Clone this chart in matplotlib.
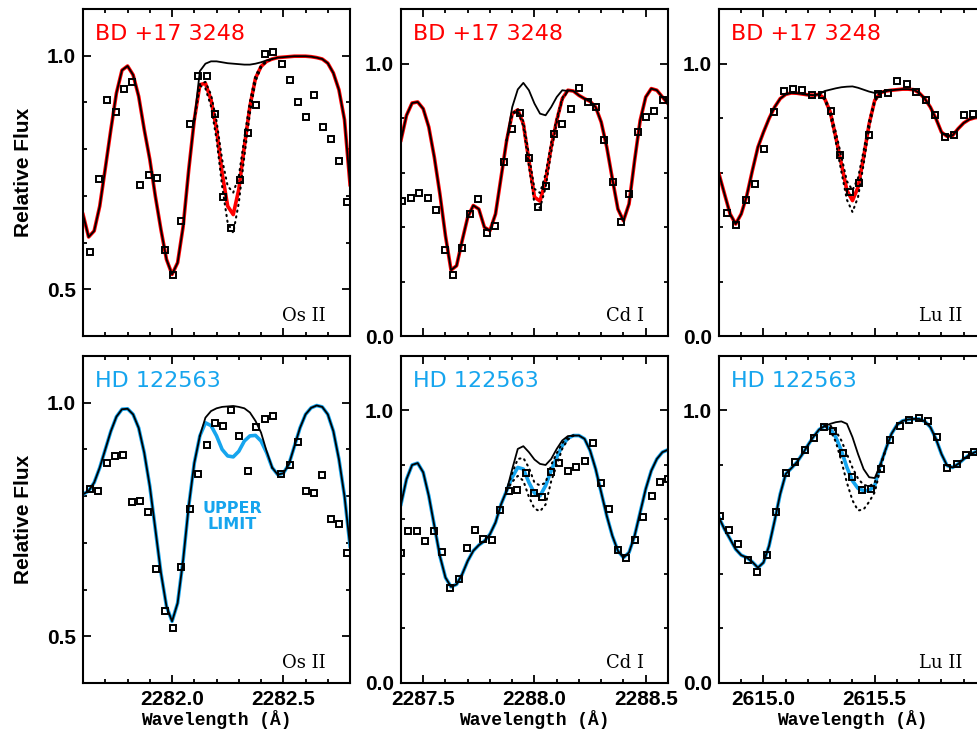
import matplotlib.pyplot as plt
from matplotlib.ticker import MultipleLocator, FormatStrFormatter, FixedLocator

RED = "#ff0000"
BLUE = "#16a5ee"

# wavelength grids of the synthetic spectra (same for both stars)
os_wave = [2281.600, 2281.625, 2281.650, 2281.675, 2281.700, 2281.725, 2281.750,
           2281.775, 2281.800, 2281.825, 2281.850, 2281.875, 2281.900, 2281.925,
           2281.950, 2281.975, 2282.000, 2282.025, 2282.050, 2282.075, 2282.100,
           2282.125, 2282.150, 2282.175, 2282.200, 2282.225, 2282.250, 2282.275,
           2282.300, 2282.325, 2282.350, 2282.375, 2282.400, 2282.425, 2282.450,
           2282.475, 2282.500, 2282.525, 2282.550, 2282.575, 2282.600, 2282.625,
           2282.650, 2282.675, 2282.700, 2282.725, 2282.750, 2282.775, 2282.800]
cd_wave = [2287.400, 2287.425, 2287.450, 2287.475, 2287.500, 2287.525, 2287.550,
           2287.575, 2287.600, 2287.625, 2287.650, 2287.675, 2287.700, 2287.725,
           2287.750, 2287.775, 2287.800, 2287.825, 2287.850, 2287.875, 2287.900,
           2287.925, 2287.950, 2287.975, 2288.000, 2288.025, 2288.050, 2288.075,
           2288.100, 2288.125, 2288.150, 2288.175, 2288.200, 2288.225, 2288.250,
           2288.275, 2288.300, 2288.325, 2288.350, 2288.375, 2288.400, 2288.425,
           2288.450, 2288.475, 2288.500, 2288.525, 2288.550, 2288.575, 2288.600]
lu_wave = [2614.800, 2614.825, 2614.850, 2614.875, 2614.900, 2614.925, 2614.950,
           2614.975, 2615.000, 2615.025, 2615.050, 2615.075, 2615.100, 2615.125,
           2615.150, 2615.175, 2615.200, 2615.225, 2615.250, 2615.275, 2615.300,
           2615.325, 2615.350, 2615.375, 2615.400, 2615.425, 2615.450, 2615.475,
           2615.500, 2615.525, 2615.550, 2615.575, 2615.600, 2615.625, 2615.650,
           2615.675, 2615.700, 2615.725, 2615.750, 2615.775, 2615.800, 2615.825,
           2615.850, 2615.875, 2615.900, 2615.925, 2615.950, 2615.975]

# ---- BD +17 3248 ----
bd_os_fit = [0.660, 0.612, 0.625, 0.678, 0.759, 0.842, 0.920, 0.969, 0.978, 0.959,
             0.913, 0.842, 0.778, 0.699, 0.628, 0.564, 0.532, 0.557, 0.635, 0.756,
             0.863, 0.938, 0.941, 0.906, 0.842, 0.749, 0.678, 0.660, 0.714, 0.806,
             0.892, 0.952, 0.977, 0.988, 0.993, 0.996, 0.997, 0.998, 0.999, 0.999,
             0.999, 0.998, 0.996, 0.993, 0.984, 0.963, 0.927, 0.863, 0.724]
bd_os_i0 = 20
bd_os_none = [0.863, 0.967, 0.983, 0.988, 0.988, 0.986, 0.984, 0.983, 0.982, 0.981,
              0.981, 0.983, 0.986, 0.990, 0.993]
bd_os_lo = [0.863, 0.936, 0.930, 0.892, 0.821, 0.721, 0.642, 0.621, 0.685, 0.785,
            0.877, 0.945, 0.975, 0.988, 0.993]
bd_os_hi = [0.863, 0.939, 0.944, 0.917, 0.860, 0.778, 0.721, 0.707, 0.742, 0.824,
            0.902, 0.957, 0.979, 0.989, 0.993]
bd_os_obs_w = [2281.633, 2281.670, 2281.709, 2281.746, 2281.782, 2281.819, 2281.858,
               2281.896, 2281.933, 2281.969, 2282.006, 2282.042, 2282.081, 2282.116,
               2282.155, 2282.193, 2282.230, 2282.266, 2282.304, 2282.340, 2282.379,
               2282.418, 2282.454, 2282.493, 2282.530, 2282.567, 2282.603, 2282.640,
               2282.678, 2282.715, 2282.752, 2282.788]
bd_os_obs_f = [0.580, 0.737, 0.905, 0.880, 0.929, 0.944, 0.724, 0.744, 0.739, 0.585,
               0.531, 0.647, 0.854, 0.956, 0.957, 0.875, 0.698, 0.632, 0.735, 0.835,
               0.895, 1.004, 1.009, 0.982, 0.948, 0.901, 0.868, 0.916, 0.848, 0.821,
               0.775, 0.686]

bd_cd_fit = [0.719, 0.810, 0.855, 0.859, 0.834, 0.767, 0.656, 0.521, 0.368, 0.242,
             0.258, 0.350, 0.436, 0.479, 0.466, 0.399, 0.387, 0.448, 0.583, 0.718,
             0.816, 0.830, 0.779, 0.644, 0.510, 0.495, 0.571, 0.693, 0.791, 0.871,
             0.902, 0.899, 0.883, 0.871, 0.861, 0.840, 0.785, 0.693, 0.577, 0.466,
             0.423, 0.485, 0.644, 0.791, 0.877, 0.908, 0.902, 0.877, 0.853]
bd_cd_i0 = 19
bd_cd_none = [0.718, 0.840, 0.905, 0.929, 0.902, 0.853, 0.816, 0.810, 0.840, 0.877,
              0.902, 0.899]
bd_cd_lo = [0.718, 0.814, 0.826, 0.770, 0.625, 0.485, 0.470, 0.545, 0.675, 0.785,
            0.868, 0.899]
bd_cd_hi = [0.718, 0.817, 0.833, 0.788, 0.665, 0.540, 0.525, 0.595, 0.708, 0.798,
            0.874, 0.899]
bd_cd_obs_w = [2287.406, 2287.444, 2287.482, 2287.521, 2287.557, 2287.597, 2287.634,
               2287.674, 2287.711, 2287.748, 2287.786, 2287.823, 2287.861, 2287.899,
               2287.937, 2287.974, 2288.014, 2288.051, 2288.088, 2288.125, 2288.163,
               2288.201, 2288.239, 2288.276, 2288.314, 2288.352, 2288.391, 2288.427,
               2288.464, 2288.502, 2288.539, 2288.577]
bd_cd_obs_f = [0.497, 0.507, 0.525, 0.508, 0.463, 0.315, 0.225, 0.323, 0.447, 0.502,
               0.378, 0.405, 0.639, 0.761, 0.817, 0.653, 0.472, 0.551, 0.742, 0.779,
               0.834, 0.912, 0.859, 0.840, 0.720, 0.567, 0.417, 0.520, 0.750, 0.805,
               0.825, 0.867]

bd_lu_fit = [0.595, 0.521, 0.448, 0.411, 0.448, 0.515, 0.607, 0.693, 0.748, 0.798,
             0.840, 0.871, 0.887, 0.892, 0.891, 0.888, 0.885, 0.884, 0.887, 0.871,
             0.822, 0.730, 0.632, 0.534, 0.497, 0.546, 0.656, 0.779, 0.865, 0.893,
             0.899, 0.902, 0.904, 0.906, 0.906, 0.904, 0.892, 0.871, 0.840, 0.798,
             0.748, 0.733, 0.736, 0.761, 0.782, 0.795, 0.801, 0.804]
bd_lu_i0 = 18
bd_lu_none = [0.887, 0.899, 0.904, 0.909, 0.913, 0.915, 0.916, 0.911, 0.904, 0.897,
              0.892, 0.894, 0.899]
bd_lu_lo = [0.887, 0.868, 0.812, 0.712, 0.603, 0.500, 0.455, 0.510, 0.630, 0.765,
            0.860, 0.892, 0.899]
bd_lu_hi = [0.887, 0.874, 0.830, 0.748, 0.660, 0.568, 0.535, 0.580, 0.680, 0.790,
            0.868, 0.894, 0.899]
bd_lu_obs_w = [2614.834, 2614.877, 2614.920, 2614.963, 2615.004, 2615.047, 2615.091,
               2615.134, 2615.175, 2615.218, 2615.261, 2615.303, 2615.346, 2615.387,
               2615.430, 2615.472, 2615.515, 2615.558, 2615.601, 2615.644, 2615.687,
               2615.730, 2615.773, 2615.816, 2615.858, 2615.901, 2615.942]
bd_lu_obs_f = [0.452, 0.407, 0.499, 0.558, 0.687, 0.822, 0.899, 0.908, 0.904, 0.883,
               0.883, 0.825, 0.666, 0.530, 0.561, 0.739, 0.890, 0.893, 0.935, 0.924,
               0.896, 0.867, 0.810, 0.730, 0.736, 0.810, 0.813]

# ---- HD 122563 ----
hd_os_fit = [0.804, 0.811, 0.829, 0.861, 0.900, 0.939, 0.970, 0.986, 0.987, 0.975,
             0.946, 0.893, 0.821, 0.729, 0.636, 0.564, 0.532, 0.571, 0.664, 0.779,
             0.871, 0.929, 0.957, 0.951, 0.929, 0.900, 0.886, 0.884, 0.896, 0.918,
             0.929, 0.930, 0.918, 0.893, 0.861, 0.846, 0.849, 0.868, 0.907, 0.946,
             0.975, 0.989, 0.994, 0.991, 0.975, 0.939, 0.879, 0.800, 0.693]
hd_os_i0 = 21
hd_os_none = [0.929, 0.968, 0.982, 0.988, 0.991, 0.992, 0.993, 0.991, 0.988, 0.979,
              0.961, 0.936, 0.896, 0.861]
hd_os_obs_w = [2281.633, 2281.669, 2281.706, 2281.743, 2281.781, 2281.818, 2281.857,
               2281.893, 2281.930, 2281.967, 2282.004, 2282.042, 2282.079, 2282.118,
               2282.155, 2282.193, 2282.228, 2282.266, 2282.303, 2282.340, 2282.378,
               2282.416, 2282.454, 2282.491, 2282.528, 2282.566, 2282.603, 2282.639,
               2282.676, 2282.713, 2282.751, 2282.788]
hd_os_obs_f = [0.816, 0.812, 0.871, 0.886, 0.888, 0.787, 0.790, 0.766, 0.644, 0.554,
               0.518, 0.649, 0.773, 0.848, 0.909, 0.956, 0.950, 0.984, 0.929, 0.854,
               0.949, 0.966, 0.972, 0.848, 0.866, 0.916, 0.812, 0.806, 0.845, 0.752,
               0.741, 0.679]

hd_cd_fit = [0.656, 0.748, 0.800, 0.807, 0.773, 0.687, 0.577, 0.466, 0.387, 0.353,
             0.362, 0.399, 0.448, 0.485, 0.506, 0.521, 0.546, 0.589, 0.656, 0.706,
             0.755, 0.791, 0.785, 0.736, 0.697, 0.687, 0.724, 0.779, 0.828, 0.871,
             0.898, 0.908, 0.908, 0.896, 0.853, 0.785, 0.699, 0.613, 0.540, 0.485,
             0.460, 0.479, 0.540, 0.626, 0.712, 0.779, 0.822, 0.847, 0.856]
hd_cd_i0 = 19
hd_cd_none = [0.706, 0.785, 0.859, 0.869, 0.847, 0.820, 0.804, 0.800, 0.822, 0.859,
              0.890, 0.906, 0.908]
hd_cd_lo = [0.706, 0.738, 0.760, 0.742, 0.683, 0.640, 0.630, 0.655, 0.740, 0.800,
            0.860, 0.893, 0.908]
hd_cd_hi = [0.706, 0.770, 0.822, 0.826, 0.790, 0.735, 0.725, 0.735, 0.800, 0.843,
            0.880, 0.902, 0.908]
hd_cd_obs_w = [2287.399, 2287.432, 2287.470, 2287.508, 2287.547, 2287.585, 2287.621,
               2287.659, 2287.695, 2287.733, 2287.770, 2287.810, 2287.847, 2287.885,
               2287.923, 2287.961, 2287.998, 2288.036, 2288.074, 2288.112, 2288.150,
               2288.187, 2288.225, 2288.263, 2288.301, 2288.337, 2288.375, 2288.412,
               2288.450, 2288.488, 2288.526, 2288.563, 2288.600]
hd_cd_obs_f = [0.476, 0.556, 0.556, 0.521, 0.556, 0.479, 0.348, 0.380, 0.497, 0.561,
               0.530, 0.526, 0.636, 0.704, 0.709, 0.771, 0.699, 0.683, 0.775, 0.806,
               0.777, 0.791, 0.813, 0.880, 0.734, 0.637, 0.488, 0.459, 0.523, 0.609,
               0.688, 0.737, 0.748]

hd_lu_fit = [0.607, 0.564, 0.528, 0.491, 0.469, 0.460, 0.444, 0.423, 0.442, 0.503,
             0.595, 0.693, 0.767, 0.788, 0.810, 0.840, 0.873, 0.904, 0.930, 0.943,
             0.933, 0.902, 0.853, 0.791, 0.742, 0.714, 0.706, 0.706, 0.725, 0.800,
             0.859, 0.914, 0.947, 0.962, 0.967, 0.969, 0.969, 0.960, 0.939, 0.896,
             0.840, 0.798, 0.791, 0.804, 0.822, 0.837, 0.847, 0.853]
hd_lu_i0 = 19
hd_lu_none = [0.943, 0.951, 0.957, 0.960, 0.951, 0.902, 0.840, 0.785, 0.755, 0.752,
              0.800, 0.859]
hd_lu_lo = [0.943, 0.928, 0.885, 0.815, 0.735, 0.670, 0.633, 0.637, 0.665, 0.700,
            0.785, 0.859]
hd_lu_hi = [0.943, 0.945, 0.925, 0.890, 0.840, 0.790, 0.750, 0.727, 0.722, 0.735,
            0.800, 0.859]
hd_lu_obs_w = [2614.803, 2614.844, 2614.887, 2614.930, 2614.972, 2615.015, 2615.058,
               2615.101, 2615.142, 2615.185, 2615.228, 2615.272, 2615.312, 2615.356,
               2615.398, 2615.441, 2615.485, 2615.527, 2615.570, 2615.613, 2615.656,
               2615.697, 2615.740, 2615.782, 2615.825, 2615.868, 2615.911, 2615.945]
hd_lu_obs_f = [0.613, 0.562, 0.509, 0.450, 0.407, 0.471, 0.629, 0.769, 0.810, 0.855,
               0.898, 0.940, 0.926, 0.843, 0.755, 0.709, 0.712, 0.785, 0.890, 0.942,
               0.966, 0.974, 0.962, 0.902, 0.789, 0.804, 0.838, 0.847]

plt.rcParams["font.family"] = "Liberation Sans"
plt.rcParams["font.weight"] = "bold"
plt.rcParams["axes.labelweight"] = "bold"
plt.rcParams["lines.solid_joinstyle"] = "round"

fig = plt.figure(figsize=(9.77, 7.34), dpi=100)

lefts = [0.0850, 0.4104, 0.7359]
bottoms = [0.5422, 0.0695]
W, H = 0.2733, 0.4455


def draw(ax, wave, fit, color, i0, none, lo, hi, obs_w, obs_f):
    i1 = i0 + len(none) - 1
    ax.plot(wave, fit, color=color, lw=2.6, zorder=2)
    ax.plot(wave[:i0 + 1], fit[:i0 + 1], color="k", lw=1.3, zorder=3)
    ax.plot(wave[i0:i1 + 1], none, color="k", lw=1.3, zorder=3)
    ax.plot(wave[i1:], fit[i1:], color="k", lw=1.3, zorder=3)
    for d in (lo, hi):
        if d:
            ax.plot(wave[i0:i1 + 1], d, color="k", lw=1.5, ls=(0, (0.6, 2.2)),
                    dash_capstyle="round", zorder=3)
    ax.plot(obs_w, obs_f, ls="none", marker="s", ms=3.8, mfc="none",
            mec="k", mew=1.4, zorder=4)


def style(ax, xlim, ylim, ymaj, ymin, bottom_row):
    ax.set_xlim(*xlim)
    ax.set_ylim(*ylim)
    ax.xaxis.set_major_locator(MultipleLocator(0.5))
    ax.xaxis.set_minor_locator(MultipleLocator(0.1))
    ax.yaxis.set_major_locator(MultipleLocator(ymaj))
    ax.yaxis.set_minor_locator(MultipleLocator(ymin))
    ax.xaxis.set_major_formatter(FormatStrFormatter("%.1f"))
    ax.yaxis.set_major_formatter(FormatStrFormatter("%.1f"))
    ax.tick_params(which="both", direction="in", top=True, right=True,
                   width=1.3, labelsize=15)
    ax.tick_params(which="major", length=6, pad=5)
    ax.tick_params(which="minor", length=3)
    ax.tick_params(axis="x", pad=5)
    for s in ax.spines.values():
        s.set_linewidth(1.5)
    if bottom_row:
        ax.set_xlabel("Wavelength (Å)", fontsize=13, labelpad=1,
                      family="Liberation Mono")
    else:
        ax.tick_params(labelbottom=False)


panels = [
    (0, 0, os_wave, bd_os_fit, RED, bd_os_i0, bd_os_none, bd_os_lo, bd_os_hi,
     bd_os_obs_w, bd_os_obs_f, "BD +17 3248", "Os II"),
    (0, 1, cd_wave, bd_cd_fit, RED, bd_cd_i0, bd_cd_none, bd_cd_lo, bd_cd_hi,
     bd_cd_obs_w, bd_cd_obs_f, "BD +17 3248", "Cd I"),
    (0, 2, lu_wave, bd_lu_fit, RED, bd_lu_i0, bd_lu_none, bd_lu_lo, bd_lu_hi,
     bd_lu_obs_w, bd_lu_obs_f, "BD +17 3248", "Lu II"),
    (1, 0, os_wave, hd_os_fit, BLUE, hd_os_i0, hd_os_none, None, None,
     hd_os_obs_w, hd_os_obs_f, "HD 122563", "Os II"),
    (1, 1, cd_wave, hd_cd_fit, BLUE, hd_cd_i0, hd_cd_none, hd_cd_lo, hd_cd_hi,
     hd_cd_obs_w, hd_cd_obs_f, "HD 122563", "Cd I"),
    (1, 2, lu_wave, hd_lu_fit, BLUE, hd_lu_i0, hd_lu_none, hd_lu_lo, hd_lu_hi,
     hd_lu_obs_w, hd_lu_obs_f, "HD 122563", "Lu II"),
]

xlims = [(2281.6, 2282.8), (2287.4, 2288.6), (2614.8, 2616.0)]

for row, col, wave, fit, color, i0, none, lo, hi, ow, of, star, ion in panels:
    ax = fig.add_axes([lefts[col], bottoms[row], W, H])
    draw(ax, wave, fit, color, i0, none, lo, hi, ow, of)
    if col == 0:
        style(ax, xlims[col], (0.4, 1.1), 0.5, 0.1, row == 1)
        ax.set_ylabel("Relative Flux", fontsize=15, labelpad=10)
    else:
        style(ax, xlims[col], (0.0, 1.2), 1.0, 0.2, row == 1)
    if col == 2:
        # the 2616.0 label falls outside the cropped figure
        ax.xaxis.set_major_locator(FixedLocator([2615.0, 2615.5]))
    ax.text(0.045, 0.925, star, transform=ax.transAxes, color=color,
            family="DejaVu Sans", weight="normal", fontsize=16, va="center")
    ax.text(0.91, 0.045, ion, transform=ax.transAxes, ha="right",
            family="DejaVu Serif", weight="normal", fontsize=13)
    if row == 1 and col == 0:
        ax.text(0.558, 0.51, "UPPER\nLIMIT", transform=ax.transAxes,
                color=BLUE, family="DejaVu Sans", weight="bold", fontsize=11.5,
                ha="center", va="center", linespacing=1.05)

fig.savefig("out.png", dpi=100)
